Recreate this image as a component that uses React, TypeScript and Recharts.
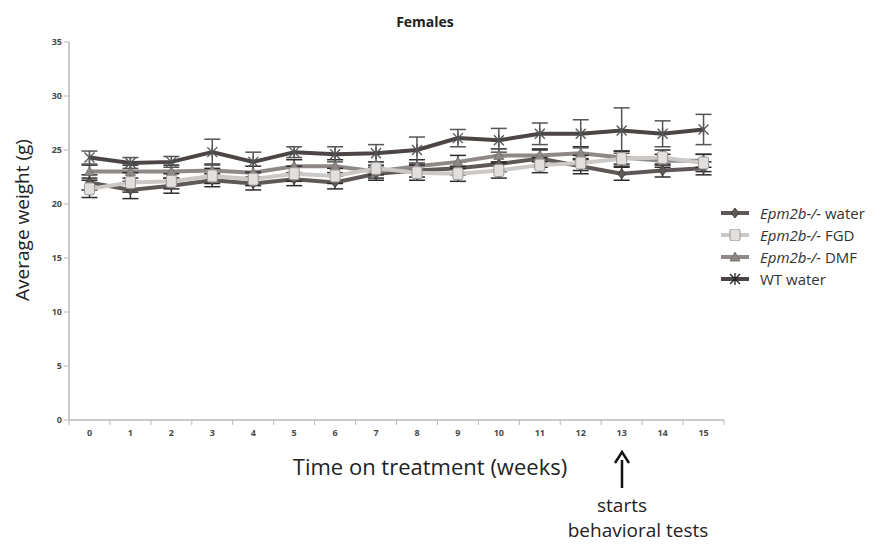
import React from 'react';
import {
  ComposedChart,
  Line,
  XAxis,
  YAxis,
  ErrorBar,
} from 'recharts';

// weeks on treatment
const weeks = [0, 1, 2, 3, 4, 5, 6, 7, 8, 9, 10, 11, 12, 13, 14, 15];
const yTicks = [0, 5, 10, 15, 20, 25, 30, 35];

// average weight (g) per group
const epmWater = [22.0, 21.3, 21.7, 22.2, 21.9, 22.3, 22.0, 22.8, 23.1, 23.3, 23.7, 24.2, 23.5, 22.8, 23.1, 23.3];
const epmWaterErr = [0.7, 0.8, 0.7, 0.6, 0.6, 0.6, 0.6, 0.6, 0.6, 0.6, 0.7, 0.8, 0.7, 0.6, 0.6, 0.6];
const epmFgd = [21.4, 22.0, 22.1, 22.6, 22.3, 22.8, 22.6, 23.3, 22.9, 22.8, 23.1, 23.6, 23.8, 24.2, 24.3, 23.8];
const epmFgdErr = [0.8, 0.9, 0.7, 0.7, 0.6, 0.7, 0.7, 0.6, 0.7, 0.7, 0.7, 0.7, 0.7, 0.7, 0.7, 0.8];
const epmDmf = [23.0, 23.0, 23.0, 23.1, 22.9, 23.5, 23.5, 23.0, 23.5, 23.9, 24.5, 24.5, 24.7, 24.3, 24.0, 24.0];
const epmDmfErr = [0.6, 0.6, 0.6, 0.6, 0.6, 0.6, 0.6, 0.6, 0.6, 0.6, 0.6, 0.6, 0.6, 0.6, 0.6, 0.6];
const wtWater = [24.3, 23.8, 23.9, 24.8, 23.9, 24.8, 24.6, 24.7, 25.0, 26.1, 25.9, 26.5, 26.5, 26.8, 26.5, 26.9];
const wtWaterErr = [0.6, 0.5, 0.5, 1.2, 0.9, 0.5, 0.7, 0.8, 1.2, 0.8, 1.1, 1.0, 1.3, 2.1, 1.2, 1.4];

const data = weeks.map((w, i) => ({
  week: w,
  epmWater: epmWater[i],
  epmWaterErr: epmWaterErr[i],
  epmFgd: epmFgd[i],
  epmFgdErr: epmFgdErr[i],
  epmDmf: epmDmf[i],
  epmDmfErr: epmDmfErr[i],
  wtWater: wtWater[i],
  wtWaterErr: wtWaterErr[i],
}));

// tick marks sit between categories, excel style
const minorTicks = weeks.map((w) => w - 0.5).concat(weeks[weeks.length - 1] + 0.5);

const C = {
  wt: '#4b4544',
  water: '#5e5857',
  dmf: '#8e8987',
  fgd: '#cbc8c6',
  err: '#2e2b2b',
  axis: '#b8b8b8',
  tick: '#4a4a4a',
};

const FONT = '"Open Sans", "DejaVu Sans", sans-serif';

type Dot = { cx?: number; cy?: number; index?: number };

const Diamond = ({ cx = 0, cy = 0, fill }: { cx?: number; cy?: number; fill: string }) => (
  <path d={`M${cx},${cy - 5} L${cx + 4},${cy} L${cx},${cy + 5} L${cx - 4},${cy} Z`} fill={fill} stroke="#3a3636" strokeWidth={0.8} />
);

const Square = ({ cx = 0, cy = 0, fill }: { cx?: number; cy?: number; fill: string }) => (
  <rect x={cx - 5} y={cy - 6} width={10} height={12} rx={2} fill={fill} stroke="#9a9694" strokeWidth={1} />
);

const Triangle = ({ cx = 0, cy = 0, fill }: { cx?: number; cy?: number; fill: string }) => (
  <path d={`M${cx},${cy - 5} L${cx + 5},${cy + 4} L${cx - 5},${cy + 4} Z`} fill={fill} stroke="#6e6a68" strokeWidth={0.8} />
);

const Star = ({ cx = 0, cy = 0, stroke }: { cx?: number; cy?: number; stroke: string }) => (
  <g stroke={stroke} strokeWidth={1.3}>
    <line x1={cx - 5} y1={cy - 5} x2={cx + 5} y2={cy + 5} />
    <line x1={cx - 5} y1={cy + 5} x2={cx + 5} y2={cy - 5} />
    <line x1={cx} y1={cy - 6} x2={cx} y2={cy + 6} />
  </g>
);

// short downward tick, drawn at each band edge
const MinorTick = ({ x = 0, y = 0 }: { x?: number; y?: number }) => (
  <line x1={x} y1={y} x2={x} y2={y + 5} stroke={C.axis} strokeWidth={1} />
);

const legendItems = [
  { italic: 'Epm2b-/-', rest: ' water', color: C.water, kind: 'diamond' },
  { italic: 'Epm2b-/-', rest: ' FGD', color: C.fgd, kind: 'square' },
  { italic: 'Epm2b-/-', rest: ' DMF', color: C.dmf, kind: 'triangle' },
  { italic: '', rest: 'WT water', color: C.wt, kind: 'star' },
];

const LegendBox = () => (
  <div style={{ position: 'absolute', left: 712, top: 194, fontFamily: FONT, fontSize: 15, color: '#333' }}>
    {legendItems.map((it) => (
      <div key={it.rest} style={{ display: 'flex', alignItems: 'center', height: 22 }}>
        <svg width={30} height={12} style={{ marginRight: 10 }}>
          <line x1={1} y1={6} x2={29} y2={6} stroke={it.color} strokeWidth={4} />
          {it.kind === 'diamond' && <Diamond cx={15} cy={6} fill={it.color} />}
          {it.kind === 'square' && <Square cx={15} cy={6} fill="#e2e0df" />}
          {it.kind === 'triangle' && <Triangle cx={15} cy={6} fill={it.color} />}
          {it.kind === 'star' && <Star cx={15} cy={6} stroke="#222" />}
        </svg>
        <span>
          {it.italic && <i>{it.italic}</i>}
          {it.rest}
        </span>
      </div>
    ))}
  </div>
);

export default function App() {
  return (
    <div style={{ position: 'relative', width: 878, height: 541, background: '#fff' }}>
      <ComposedChart
        width={878}
        height={541}
        data={data}
        margin={{ top: 34, right: 162, left: 31, bottom: 103 }}
      >
        {/* axis line + between-category tick marks (closest to plot) */}
        <XAxis
          dataKey="week"
          type="number"
          domain={[-0.5, 15.5]}
          ticks={minorTicks}
          interval={0}
          tick={(p: any) => <MinorTick key={`m-${p.index}`} x={p.x} y={p.y} />}
          tickLine={false}
          tickMargin={0}
          tickSize={0}
          axisLine={{ stroke: C.axis, strokeWidth: 1.5 }}
          height={6}
        />
        {/* week labels */}
        <XAxis
          xAxisId="labels"
          dataKey="week"
          type="number"
          domain={[-0.5, 15.5]}
          ticks={weeks}
          interval={0}
          tickLine={false}
          axisLine={false}
          tick={{ fill: C.tick, fontSize: 9, fontWeight: 'bold', fontFamily: FONT }}
          tickSize={0}
          tickMargin={4}
          height={20}
        />
        <YAxis
          domain={[0, 35]}
          ticks={yTicks}
          interval={0}
          width={30}
          axisLine={{ stroke: C.axis, strokeWidth: 1.5 }}
          tickLine={{ stroke: C.axis }}
          tickSize={5}
          tick={{ fill: C.tick, fontSize: 9, fontWeight: 'bold', fontFamily: FONT }}
        />

        <Line
          dataKey="epmWater"
          stroke={C.water}
          strokeWidth={4}
          isAnimationActive={false}
          dot={(p: Dot) => <Diamond key={`w-${p.index}`} cx={p.cx} cy={p.cy} fill={C.water} />}
        >
          <ErrorBar dataKey="epmWaterErr" width={8} stroke={C.err} strokeWidth={1.5} />
        </Line>
        <Line
          dataKey="epmDmf"
          stroke={C.dmf}
          strokeWidth={4}
          isAnimationActive={false}
          dot={(p: Dot) => <Triangle key={`d-${p.index}`} cx={p.cx} cy={p.cy} fill={C.dmf} />}
        >
          <ErrorBar dataKey="epmDmfErr" width={8} stroke={C.err} strokeWidth={1.5} />
        </Line>
        <Line
          dataKey="epmFgd"
          stroke={C.fgd}
          strokeWidth={4}
          isAnimationActive={false}
          dot={(p: Dot) => <Square key={`f-${p.index}`} cx={p.cx} cy={p.cy} fill="#e2e0df" />}
        >
          <ErrorBar dataKey="epmFgdErr" width={8} stroke={C.err} strokeWidth={1.5} />
        </Line>
        <Line
          dataKey="wtWater"
          stroke={C.wt}
          strokeWidth={4}
          isAnimationActive={false}
          dot={(p: Dot) => <Star key={`t-${p.index}`} cx={p.cx} cy={p.cy} stroke="#555" />}
        >
          <ErrorBar dataKey="wtWaterErr" width={8} stroke="#555" strokeWidth={1.5} />
        </Line>
      </ComposedChart>

      <LegendBox />

      <svg
        width={878}
        height={541}
        style={{ position: 'absolute', left: 0, top: 0, pointerEvents: 'none' }}
        fontFamily={FONT}
      >
        <text x={417} y={13} textAnchor="middle" dominantBaseline="central" fontSize={14} fontWeight="bold" fill="#222">
          Females
        </text>
        <text
          x={14}
          y={212}
          textAnchor="middle"
          dominantBaseline="central"
          fontSize={19}
          fill="#222"
          transform="rotate(-90 14 212)"
        >
          Average weight (g)
        </text>
        <text x={422} y={458} textAnchor="middle" dominantBaseline="central" fontSize={22} fill="#222">
          Time on treatment (weeks)
        </text>
        <line x1={614} y1={480} x2={614} y2={452} stroke="#111" strokeWidth={2.5} />
        <path d="M607,455 L614,444 L621,455" fill="none" stroke="#111" strokeWidth={2.5} />
        <text x={614} y={497} textAnchor="middle" dominantBaseline="central" fontSize={19} fill="#222">
          starts
        </text>
        <text x={630} y={522} textAnchor="middle" dominantBaseline="central" fontSize={19} fill="#222">
          behavioral tests
        </text>
      </svg>
    </div>
  );
}
